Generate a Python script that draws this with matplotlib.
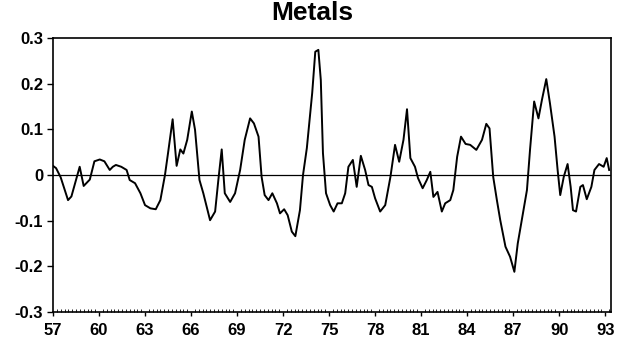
import numpy as np
import matplotlib.pyplot as plt
from matplotlib.ticker import MultipleLocator

# kropki (rok, wartość)
years = [57.0, 57.2, 57.5, 57.98, 58.2, 58.74, 59.0, 59.4, 59.7, 60.05, 60.35, 60.7,
         60.9, 61.1, 61.45, 61.8, 62.0, 62.35, 62.7, 63.0, 63.35, 63.7, 64.0, 64.3,
         64.5, 64.8, 65.06, 65.3, 65.5, 65.75, 66.05, 66.26, 66.55, 66.8, 67.24, 67.57,
         67.78, 68.0, 68.2, 68.55, 68.87, 69.2, 69.5, 69.85, 70.1, 70.4, 70.6, 70.8,
         71.05, 71.3, 71.6, 71.8, 72.07, 72.3, 72.57, 72.8, 73.1, 73.3, 73.55, 73.9,
         74.1, 74.3, 74.46, 74.6, 74.8, 75.07, 75.3, 75.55, 75.83, 76.05, 76.26, 76.55,
         76.8, 77.07, 77.35, 77.57, 77.79, 78.0, 78.33, 78.66, 79.0, 79.3, 79.57, 79.85,
         80.08, 80.3, 80.6, 80.8, 81.1, 81.37, 81.6, 81.8, 82.07, 82.35, 82.57, 82.9,
         83.1, 83.35, 83.6, 83.9, 84.2, 84.6, 84.97, 85.25, 85.46, 85.7, 85.94, 86.16,
         86.5, 86.8, 87.08, 87.3, 87.6, 87.9, 88.1, 88.37, 88.65, 88.88, 89.16, 89.4,
         89.7, 89.9, 90.07, 90.3, 90.55, 90.75, 90.9, 91.1, 91.38, 91.55, 91.8, 92.1,
         92.3, 92.6, 92.9, 93.1, 93.26]
values = [0.020, 0.015, -0.005, -0.055, -0.047, 0.018, -0.024, -0.010, 0.030, 0.034, 0.030, 0.011,
          0.018, 0.022, 0.018, 0.011, -0.011, -0.018, -0.040, -0.066, -0.073, -0.075, -0.055, 0.000,
          0.048, 0.122, 0.020, 0.056, 0.047, 0.077, 0.139, 0.099, -0.011, -0.040, -0.099, -0.080,
          -0.011, 0.056, -0.040, -0.059, -0.040, 0.011, 0.077, 0.124, 0.113, 0.084, -0.004, -0.044,
          -0.055, -0.040, -0.062, -0.084, -0.075, -0.088, -0.124, -0.134, -0.077, 0.000, 0.059, 0.180,
          0.270, 0.274, 0.208, 0.048, -0.040, -0.066, -0.080, -0.062, -0.062, -0.040, 0.018, 0.033,
          -0.026, 0.042, 0.011, -0.022, -0.026, -0.051, -0.080, -0.066, -0.004, 0.066, 0.029, 0.077,
          0.144, 0.037, 0.018, -0.007, -0.029, -0.011, 0.007, -0.048, -0.037, -0.080, -0.062, -0.055,
          -0.033, 0.040, 0.084, 0.068, 0.066, 0.055, 0.077, 0.112, 0.102, -0.004, -0.055, -0.099,
          -0.157, -0.179, -0.212, -0.150, -0.091, -0.033, 0.055, 0.161, 0.124, 0.165, 0.210, 0.157,
          0.084, 0.011, -0.044, -0.004, 0.024, -0.026, -0.077, -0.080, -0.026, -0.022, -0.053, -0.026,
          0.011, 0.024, 0.018, 0.037, 0.011]

xticks = [57, 60, 63, 66, 69, 72, 75, 78, 81, 84, 87, 90, 93]
yticks = [0.3, 0.2, 0.1, 0, -0.1, -0.2, -0.3]
ylabels = ['0.3', '0.2', '0.1', '0', '-0.1', '-0.2', '-0.3']

plt.rcParams['font.family'] = ['Liberation Sans', 'DejaVu Sans']

fig = plt.figure(figsize=(6.31, 3.46), dpi=100)
ax = fig.add_axes([53/631, 1 - 312/346, (611 - 53)/631, (312 - 38)/346])

ax.axhline(0, color='black', lw=0.9)
ax.plot(years, values, color='black', lw=1.4, solid_joinstyle='round')

ax.set_xlim(57, 93.38)
ax.set_ylim(-0.3, 0.3)
ax.set_xticks(xticks)
ax.set_xticklabels([str(t) for t in xticks], fontweight='bold', fontsize=12)
ax.set_yticks(yticks)
ax.set_yticklabels(ylabels, fontweight='bold', fontsize=12)
ax.xaxis.set_minor_locator(MultipleLocator(0.25))
ax.tick_params(axis='x', which='major', direction='out', length=3, width=1, pad=5)
ax.tick_params(axis='x', which='minor', direction='in', length=2, width=0.6)
ax.tick_params(axis='y', which='major', direction='out', length=4, width=1, pad=3)
for s in ax.spines.values():
    s.set_linewidth(1.2)

fig.text(312/631, 1 - 20/346, 'Metals', ha='center', va='baseline',
         fontsize=19, fontweight='bold')

fig.savefig('out.png', dpi=100)
